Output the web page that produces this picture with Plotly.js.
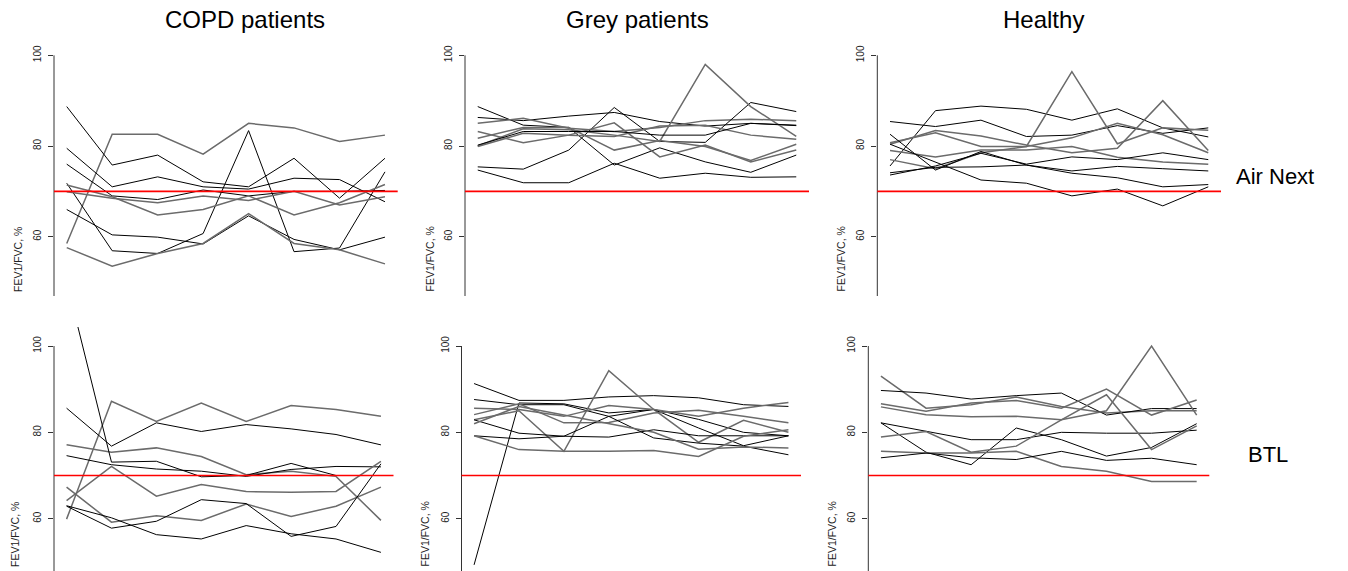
<!DOCTYPE html>
<html><head><meta charset="utf-8">
<script src="https://cdn.plot.ly/plotly-3.0.1.min.js"></script>
<style>
html,body{margin:0;padding:0;background:#fff;overflow:hidden;width:1348px;height:571px}
#rowTop{position:absolute;left:0;top:0;width:1348px;height:296px;overflow:hidden}
#rowBot{position:absolute;left:0;top:296px;width:1348px;height:275px;overflow:hidden}
</style></head><body>
<div id="rowTop"></div><div id="rowBot"></div>
<script>
// ---------------- data ----------------
const visits = [1, 2, 3, 4, 5, 6, 7, 8];
const columnTitles = ["COPD patients", "Grey patients", "Healthy"];
const rowLabels = ["Air Next", "BTL"];
const yTickValues = [60, 80, 100];
const yTitle = "FEV1/FVC, %";
const threshold = 70;

// COPD patients, Air Next
const copdAirNext = [
  [58.5, 82.6, 82.6, 78.2, 85.0, 84.0, 81.0, 82.4],
  [88.7, 75.8, 78.0, 72.1, 71.0, 77.3, 68.5, 77.3],
  [79.5, 71.0, 73.2, 71.0, 70.5, 72.9, 72.6, 67.7],
  [76.0, 69.0, 68.2, 70.3, 69.0, 70.0, 70.0, 70.2],
  [71.8, 56.9, 56.3, 60.7, 83.4, 56.7, 57.5, 74.3],
  [71.4, 68.8, 64.8, 66.0, 69.0, 64.8, 67.5, 71.5],
  [69.9, 68.5, 67.5, 69.0, 68.0, 70.0, 67.0, 68.8],
  [66.0, 60.4, 59.9, 58.4, 64.6, 59.4, 57.1, 59.9],
  [57.6, 53.5, 56.3, 58.5, 65.1, 58.5, 57.1, 54.0]
];
const copdAirNextShade = ["g", "k", "k", "k", "k", "g", "g", "k", "g"];

// Grey patients, Air Next
const greyAirNext = [
  [88.7, 84.6, 84.1, 75.8, 79.6, 76.5, 74.2, 78.0],
  [86.3, 85.6, 86.6, 87.4, 85.4, 84.4, 85.0, 84.5],
  [85.0, 86.1, 83.9, 83.2, 84.1, 85.6, 85.9, 85.6],
  [75.4, 74.9, 79.1, 88.5, 81.0, 80.8, 89.6, 87.6],
  [74.7, 71.9, 71.9, 76.2, 72.9, 74.0, 73.1, 73.2],
  [80.0, 83.8, 83.6, 82.4, 81.0, 98.0, 88.7, 82.1],
  [83.2, 80.7, 82.4, 85.1, 77.6, 80.2, 76.5, 79.1],
  [81.7, 84.1, 84.1, 79.1, 81.2, 79.9, 76.8, 80.4],
  [79.9, 82.8, 82.4, 82.1, 84.4, 84.6, 82.4, 81.5],
  [80.2, 83.2, 83.2, 83.2, 82.4, 82.4, 85.0, 84.6]
];
const greyAirNextShade = ["k", "k", "g", "k", "k", "g", "g", "g", "g", "k"];

// Healthy, Air Next
const healthyAirNext = [
  [85.4, 84.3, 85.7, 82.1, 82.4, 84.5, 82.8, 84.0],
  [75.6, 87.8, 88.8, 88.1, 85.7, 88.2, 84.0, 82.0],
  [80.4, 83.4, 82.2, 80.2, 78.5, 79.5, 90.0, 79.0],
  [80.7, 82.9, 79.9, 79.9, 81.8, 85.0, 82.5, 78.5],
  [77.0, 75.0, 78.5, 79.9, 96.4, 80.5, 84.0, 83.5],
  [82.6, 74.7, 78.8, 75.8, 74.0, 73.0, 71.0, 71.5],
  [79.0, 77.6, 79.1, 79.1, 79.9, 77.5, 76.5, 76.0],
  [73.6, 75.6, 78.4, 76.0, 77.6, 77.0, 78.5, 77.0],
  [74.1, 75.3, 75.4, 75.8, 74.5, 75.5, 75.0, 74.5],
  [80.4, 76.5, 72.5, 71.8, 69.0, 70.5, 66.8, 71.0]
];
const healthyAirNextShade = ["k", "k", "g", "g", "g", "k", "g", "k", "k", "k"];

// COPD patients, BTL
const copdBTL = [
  [59.9, 87.2, 82.5, 86.8, 82.5, 86.2, 85.3, 83.7],
  [85.6, 76.8, 82.2, 80.2, 81.8, 80.8, 79.5, 77.1],
  [77.1, 75.4, 76.4, 74.4, 70.2, 71.0, 69.8, 59.6],
  [74.6, 72.5, 71.5, 71.0, 69.8, 71.4, 72.1, 72.0],
  [115.0, 73.1, 73.3, 69.7, 70.0, 72.8, 70.0, 70.0],
  [64.2, 72.1, 65.2, 67.9, 66.3, 66.1, 66.3, 73.3],
  [67.3, 59.2, 60.7, 59.6, 63.4, 60.5, 62.9, 67.3],
  [62.9, 57.8, 59.4, 64.4, 63.5, 55.9, 58.2, 72.7],
  [63.0, 60.2, 56.3, 55.3, 58.4, 56.5, 55.3, 52.2]
];
const copdBTLShade = ["g", "k", "g", "k", "k", "g", "g", "k", "k"];

// Grey patients, BTL
const greyBTL = [
  [49.3, 86.8, 86.6, 84.5, 85.3, 83.0, 80.0, 79.2],
  [91.3, 87.4, 87.4, 88.2, 88.5, 88.0, 86.4, 86.0],
  [82.9, 85.0, 75.6, 94.3, 85.3, 77.7, 82.8, 80.0],
  [87.6, 86.4, 86.4, 83.7, 85.3, 81.0, 76.9, 79.2],
  [85.6, 85.3, 83.7, 86.2, 85.3, 83.7, 85.6, 86.9],
  [84.1, 86.6, 82.2, 82.3, 84.5, 85.1, 83.7, 82.2],
  [82.9, 79.8, 79.1, 83.7, 78.7, 77.5, 76.8, 74.8],
  [79.2, 78.5, 79.1, 78.9, 80.6, 79.2, 79.2, 79.2],
  [79.2, 76.0, 75.6, 75.6, 75.8, 74.4, 79.1, 80.6],
  [82.0, 86.0, 84.0, 82.0, 80.0, 76.1, 76.6, 76.4]
];
const greyBTLShade = ["k", "k", "g", "k", "g", "g", "k", "k", "g", "g"];

// Healthy, BTL
const healthyBTL = [
  [93.0, 85.6, 86.4, 88.2, 86.0, 84.5, 85.0, 85.0],
  [89.7, 89.1, 87.7, 88.5, 89.1, 84.0, 85.5, 85.5],
  [86.6, 84.9, 86.8, 87.4, 85.6, 90.0, 84.0, 87.5],
  [85.9, 84.1, 83.6, 83.7, 82.9, 85.0, 100.0, 84.0],
  [82.2, 80.2, 78.3, 78.3, 80.0, 79.8, 79.8, 80.5],
  [82.2, 75.4, 72.5, 81.0, 78.3, 74.5, 76.5, 82.0],
  [78.9, 80.2, 75.4, 76.8, 82.9, 88.7, 76.0, 81.5],
  [75.6, 75.2, 75.2, 75.6, 72.1, 71.0, 68.6, 68.6],
  [74.1, 75.2, 74.1, 73.7, 75.6, 73.5, 74.0, 72.5]
];
const healthyBTLShade = ["g", "k", "g", "g", "k", "k", "g", "g", "k"];

// ---------------- drawing ----------------
const W = 1348;
const FONT = "Liberation Sans, Arial, Helvetica, sans-serif";
const SHADES = {k: {color: "#000000", width: 1}, g: {color: "#6b6b6b", width: 1.5}};

function buildRow(divId, H, panels, shades, geom) {
  const traces = [];
  const layout = {
    width: W, height: H,
    margin: {l: 0, r: 0, t: 0, b: 0},
    paper_bgcolor: "#ffffff", plot_bgcolor: "rgba(0,0,0,0)",
    showlegend: false, hovermode: false,
    shapes: [], annotations: []
  };
  panels.forEach((series, p) => {
    const sfx = p === 0 ? "" : String(p + 1);
    const g = geom.panels[p];
    series.forEach((vals, i) => {
      const st = SHADES[shades[p][i]];
      traces.push({
        x: visits, y: vals, type: "scatter", mode: "lines",
        xaxis: "x" + sfx, yaxis: "y" + sfx,
        line: {color: st.color, width: st.width}, hoverinfo: "skip"
      });
    });
    layout["xaxis" + sfx] = {
      domain: [g.x0 / W, g.x1 / W], range: [0.72, 8.28], visible: false, fixedrange: true
    };
    layout["yaxis" + sfx] = {
      domain: [0, geom.yTopFrac], range: geom.yRange, anchor: "x" + sfx,
      tickvals: yTickValues, ticktext: yTickValues.map(String),
      ticks: "outside", ticklen: 5, tickwidth: 1, tickcolor: "#333333",
      tickangle: -90, ticklabelstandoff: 3,
      tickfont: {family: FONT, size: 10, color: "#222222"},
      showline: false, showgrid: false, zeroline: false, fixedrange: true
    };
    // y axis line from 100 downward (as in the original)
    layout.shapes.push({
      type: "line", xref: "paper", yref: "y" + sfx,
      x0: g.x0 / W, x1: g.x0 / W, y0: geom.yRange[0], y1: 100,
      line: {color: "#333333", width: 1}
    });
    // threshold line
    layout.shapes.push({
      type: "line", xref: "x" + sfx + " domain", yref: "y" + sfx,
      x0: 0, x1: 1, y0: threshold, y1: threshold,
      line: {color: "rgb(255,0,0)", width: 1.6}
    });
    // y axis title, kept whole just above the lower edge
    layout.annotations.push({
      text: yTitle, textangle: -90, showarrow: false,
      xref: "paper", yref: "paper", x: g.labelX / W, xanchor: "center",
      y: geom.labelBottom / H, yanchor: "bottom",
      font: {family: FONT, size: 10.5, color: "#222222"}
    });
  });
  (geom.extraAnn || []).forEach(a => layout.annotations.push(a));
  Plotly.newPlot(divId, traces, layout, {staticPlot: true, displayModeBar: false});
}

// top row: 296 px tall
const H1 = 296;
const topAnn = [];
const titleX = [245, 637, 1043];
columnTitles.forEach((t, i) => topAnn.push({
  text: t, showarrow: false, xref: "paper", yref: "paper",
  x: titleX[i] / W, xanchor: "center", y: 1 - 20 / H1, yanchor: "middle",
  font: {family: FONT, size: 24, color: "#000000"}
}));
topAnn.push({
  text: rowLabels[0], showarrow: false, xref: "paper", yref: "paper",
  x: 1234 / W, xanchor: "left", y: 1 - 176 / H1, yanchor: "middle",
  font: {family: FONT, size: 22, color: "#000000"}
});
buildRow("rowTop", H1,
  [copdAirNext, greyAirNext, healthyAirNext],
  [copdAirNextShade, greyAirNextShade, healthyAirNextShade],
  {
    panels: [{x0: 54, x1: 397.7, labelX: 17.5}, {x0: 465, x1: 809, labelX: 429}, {x0: 877.3, x1: 1221, labelX: 840}],
    yRange: [46.92, 104.0], yTopFrac: (296 - 37.2) / 296, labelBottom: 2,
    extraAnn: topAnn
  });

// bottom row: 275 px tall (page y 296..571)
const H2 = 275;
const botAnn = [{
  text: rowLabels[1], showarrow: false, xref: "paper", yref: "paper",
  x: 1246 / W, xanchor: "left", y: 1 - (454 - 296) / H2, yanchor: "middle",
  font: {family: FONT, size: 22, color: "#000000"}
}];
buildRow("rowBot", H2,
  [copdBTL, greyBTL, healthyBTL],
  [copdBTLShade, greyBTLShade, healthyBTLShade],
  {
    panels: [{x0: 54, x1: 393.5, labelX: 14.5}, {x0: 461.5, x1: 801, labelX: 424}, {x0: 868.3, x1: 1209.3, labelX: 831}],
    yRange: [47.88, 104.4], yTopFrac: 1 - (327 - 296) / 275, labelBottom: 2,
    extraAnn: botAnn
  });
</script>
</body></html>
